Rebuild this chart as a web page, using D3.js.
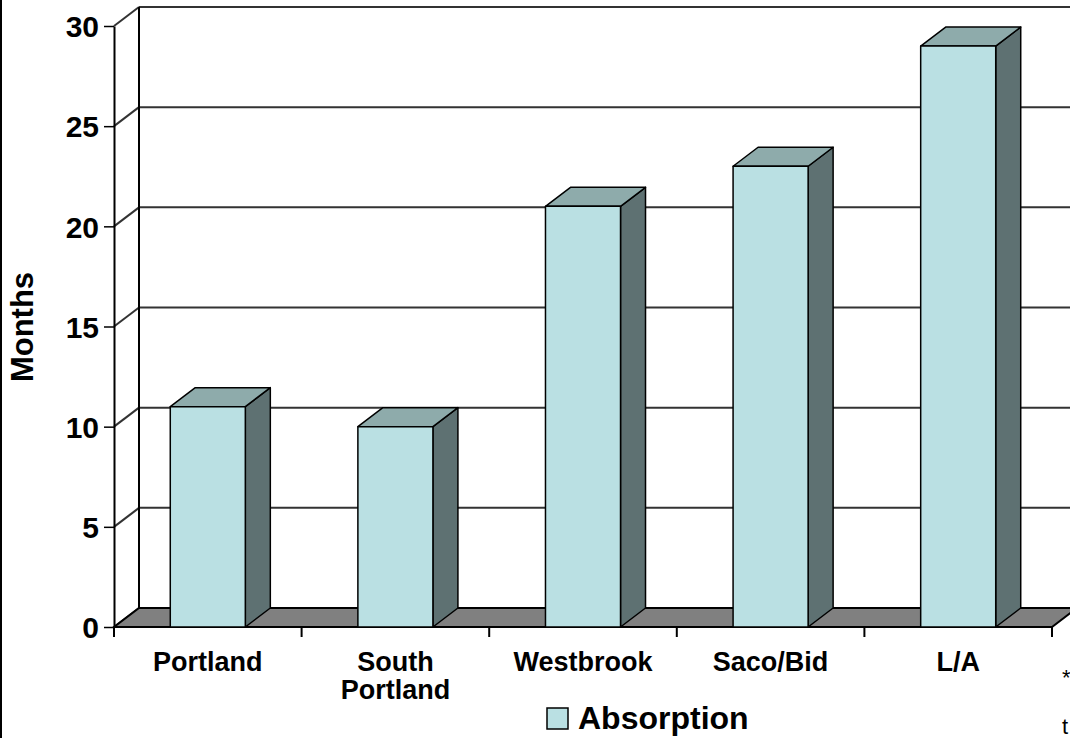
<!DOCTYPE html>
<meta charset="utf-8">
<html>
<head>
<title>Absorption by market</title>
<style>
  body { margin: 0; background: #fff; }
  text { font-family: "Liberation Sans", Arial, sans-serif; font-weight: bold; fill: #000; }
  .grid { stroke: #333; stroke-width: 2px; }
  .frame { stroke: #000; stroke-width: 2px; fill: none; }
  .bar { stroke: #000; stroke-width: 1.5px; stroke-linejoin: round; }
</style>
<script src="https://cdn.jsdelivr.net/npm/d3@7/dist/d3.min.js"></script>
</head>
<body>
<div id="chart"></div>
<script>
// data
var categories = ["Portland", "South Portland", "Westbrook", "Saco/Bid", "L/A"];
var absorption = [11, 10, 21, 23, 29];
var yTicks = [0, 5, 10, 15, 20, 25, 30];
var seriesName = "Absorption";

var W = 1070, H = 738;
var dx = 25, dy = 19;          // 3d depth offset
var colFront = "#bae0e3", colTop = "#8eabab", colSide = "#5e7172", colFloor = "#808080";

var svg = d3.select("#chart").append("svg")
  .attr("width", W).attr("height", H);

var x = d3.scaleBand().domain(categories).range([114, 1052]);
var y = d3.scaleLinear().domain([0, 30]).range([627, 26]);
var barW = x.bandwidth() * 0.4;

// left border of the picture
svg.append("line").attr("class", "frame")
  .attr("x1", 1).attr("x2", 1).attr("y1", 0).attr("y2", H);

// back wall grid lines
svg.selectAll(".grid").data(yTicks.slice(1)).enter().append("line")
  .attr("class", "grid")
  .attr("x1", x.range()[0] + dx).attr("x2", W + 10)
  .attr("y1", function(d) { return y(d) - dy; })
  .attr("y2", function(d) { return y(d) - dy; });

// side wall diagonals
svg.selectAll(".side").data(yTicks).enter().append("line")
  .attr("class", "grid")
  .attr("x1", x.range()[0]).attr("y1", function(d) { return y(d); })
  .attr("x2", x.range()[0] + dx).attr("y2", function(d) { return y(d) - dy; });

// back wall left edge
svg.append("line").attr("class", "frame")
  .attr("x1", x.range()[0] + dx).attr("x2", x.range()[0] + dx)
  .attr("y1", y(30) - dy).attr("y2", y(0) - dy);

// floor
var x0 = x.range()[0], x1 = x.range()[1], yb = y(0);
svg.append("path")
  .attr("d", "M" + x0 + "," + yb + "L" + x1 + "," + yb + "L" + (x1 + dx) + "," + (yb - dy) +
             "L" + (x0 + dx) + "," + (yb - dy) + "Z")
  .attr("fill", colFloor).attr("stroke", "#000").attr("stroke-width", 2);

// x ticks at category boundaries
var bounds = d3.range(categories.length + 1).map(function(i) { return x0 + i * x.step(); });
svg.selectAll(".xtick").data(bounds).enter().append("line")
  .attr("class", "frame")
  .attr("x1", function(d) { return d; }).attr("x2", function(d) { return d; })
  .attr("y1", yb).attr("y2", yb + 10);

// y axis
var yAxis = svg.append("g")
  .attr("transform", "translate(" + x0 + ",0)")
  .call(d3.axisLeft(y).tickValues(yTicks).tickSize(10).tickSizeOuter(0).tickPadding(5));
yAxis.select(".domain").attr("stroke", "#000").attr("stroke-width", 2);
yAxis.selectAll(".tick line").attr("stroke", "#000").attr("stroke-width", 1.5);
yAxis.selectAll(".tick text")
  .style("font-family", "'Liberation Sans', Arial, sans-serif")
  .style("font-weight", "bold").style("font-size", "30px").attr("fill", "#000")
  .attr("dy", "0.36em");

// bars
var bars = svg.selectAll(".barg").data(categories).enter().append("g");
bars.each(function(c, i) {
  var g = d3.select(this);
  var bx = x(c) + (x.bandwidth() - barW) / 2;
  var by = y(absorption[i]);
  var bw = barW;
  // side face
  g.append("path").attr("class", "bar").attr("fill", colSide)
    .attr("d", "M" + (bx + bw) + "," + by + "L" + (bx + bw + dx) + "," + (by - dy) +
               "L" + (bx + bw + dx) + "," + (yb - dy) + "L" + (bx + bw) + "," + yb + "Z");
  // top face
  g.append("path").attr("class", "bar").attr("fill", colTop)
    .attr("d", "M" + bx + "," + by + "L" + (bx + dx) + "," + (by - dy) +
               "L" + (bx + bw + dx) + "," + (by - dy) + "L" + (bx + bw) + "," + by + "Z");
  // front face
  g.append("rect").attr("class", "bar").attr("fill", colFront)
    .attr("x", bx).attr("y", by).attr("width", bw).attr("height", yb - by);
});

// category labels
svg.selectAll(".cat").data(categories).enter().append("text")
  .attr("text-anchor", "middle")
  .style("font-size", "27px")
  .attr("x", function(d) { return x(d) + x.bandwidth() / 2; })
  .attr("y", 671)
  .each(function(d) {
    var words = d === "South Portland" ? ["South", "Portland"] : [d];
    var t = d3.select(this);
    words.forEach(function(w, k) {
      t.append("tspan").attr("x", x(d) + x.bandwidth() / 2).attr("dy", k ? 28 : 0).text(w);
    });
  });

// y title
svg.append("text")
  .attr("transform", "translate(33,327) rotate(-90)")
  .attr("text-anchor", "middle")
  .style("font-size", "31px")
  .text("Months");

// legend
svg.append("rect")
  .attr("x", 547).attr("y", 708).attr("width", 21).attr("height", 21)
  .attr("fill", colFront).attr("stroke", "#000").attr("stroke-width", 1.5);
svg.append("text")
  .attr("x", 578).attr("y", 729)
  .style("font-size", "32px")
  .text(seriesName);

// clipped footnote at the right edge
svg.append("text").attr("x", 1062).attr("y", 685)
  .style("font-size", "22px").style("font-weight", "normal").text("*");
svg.append("text").attr("x", 1062).attr("y", 734)
  .style("font-size", "22px").style("font-weight", "normal").text("t");
</script>
</body>
</html>
